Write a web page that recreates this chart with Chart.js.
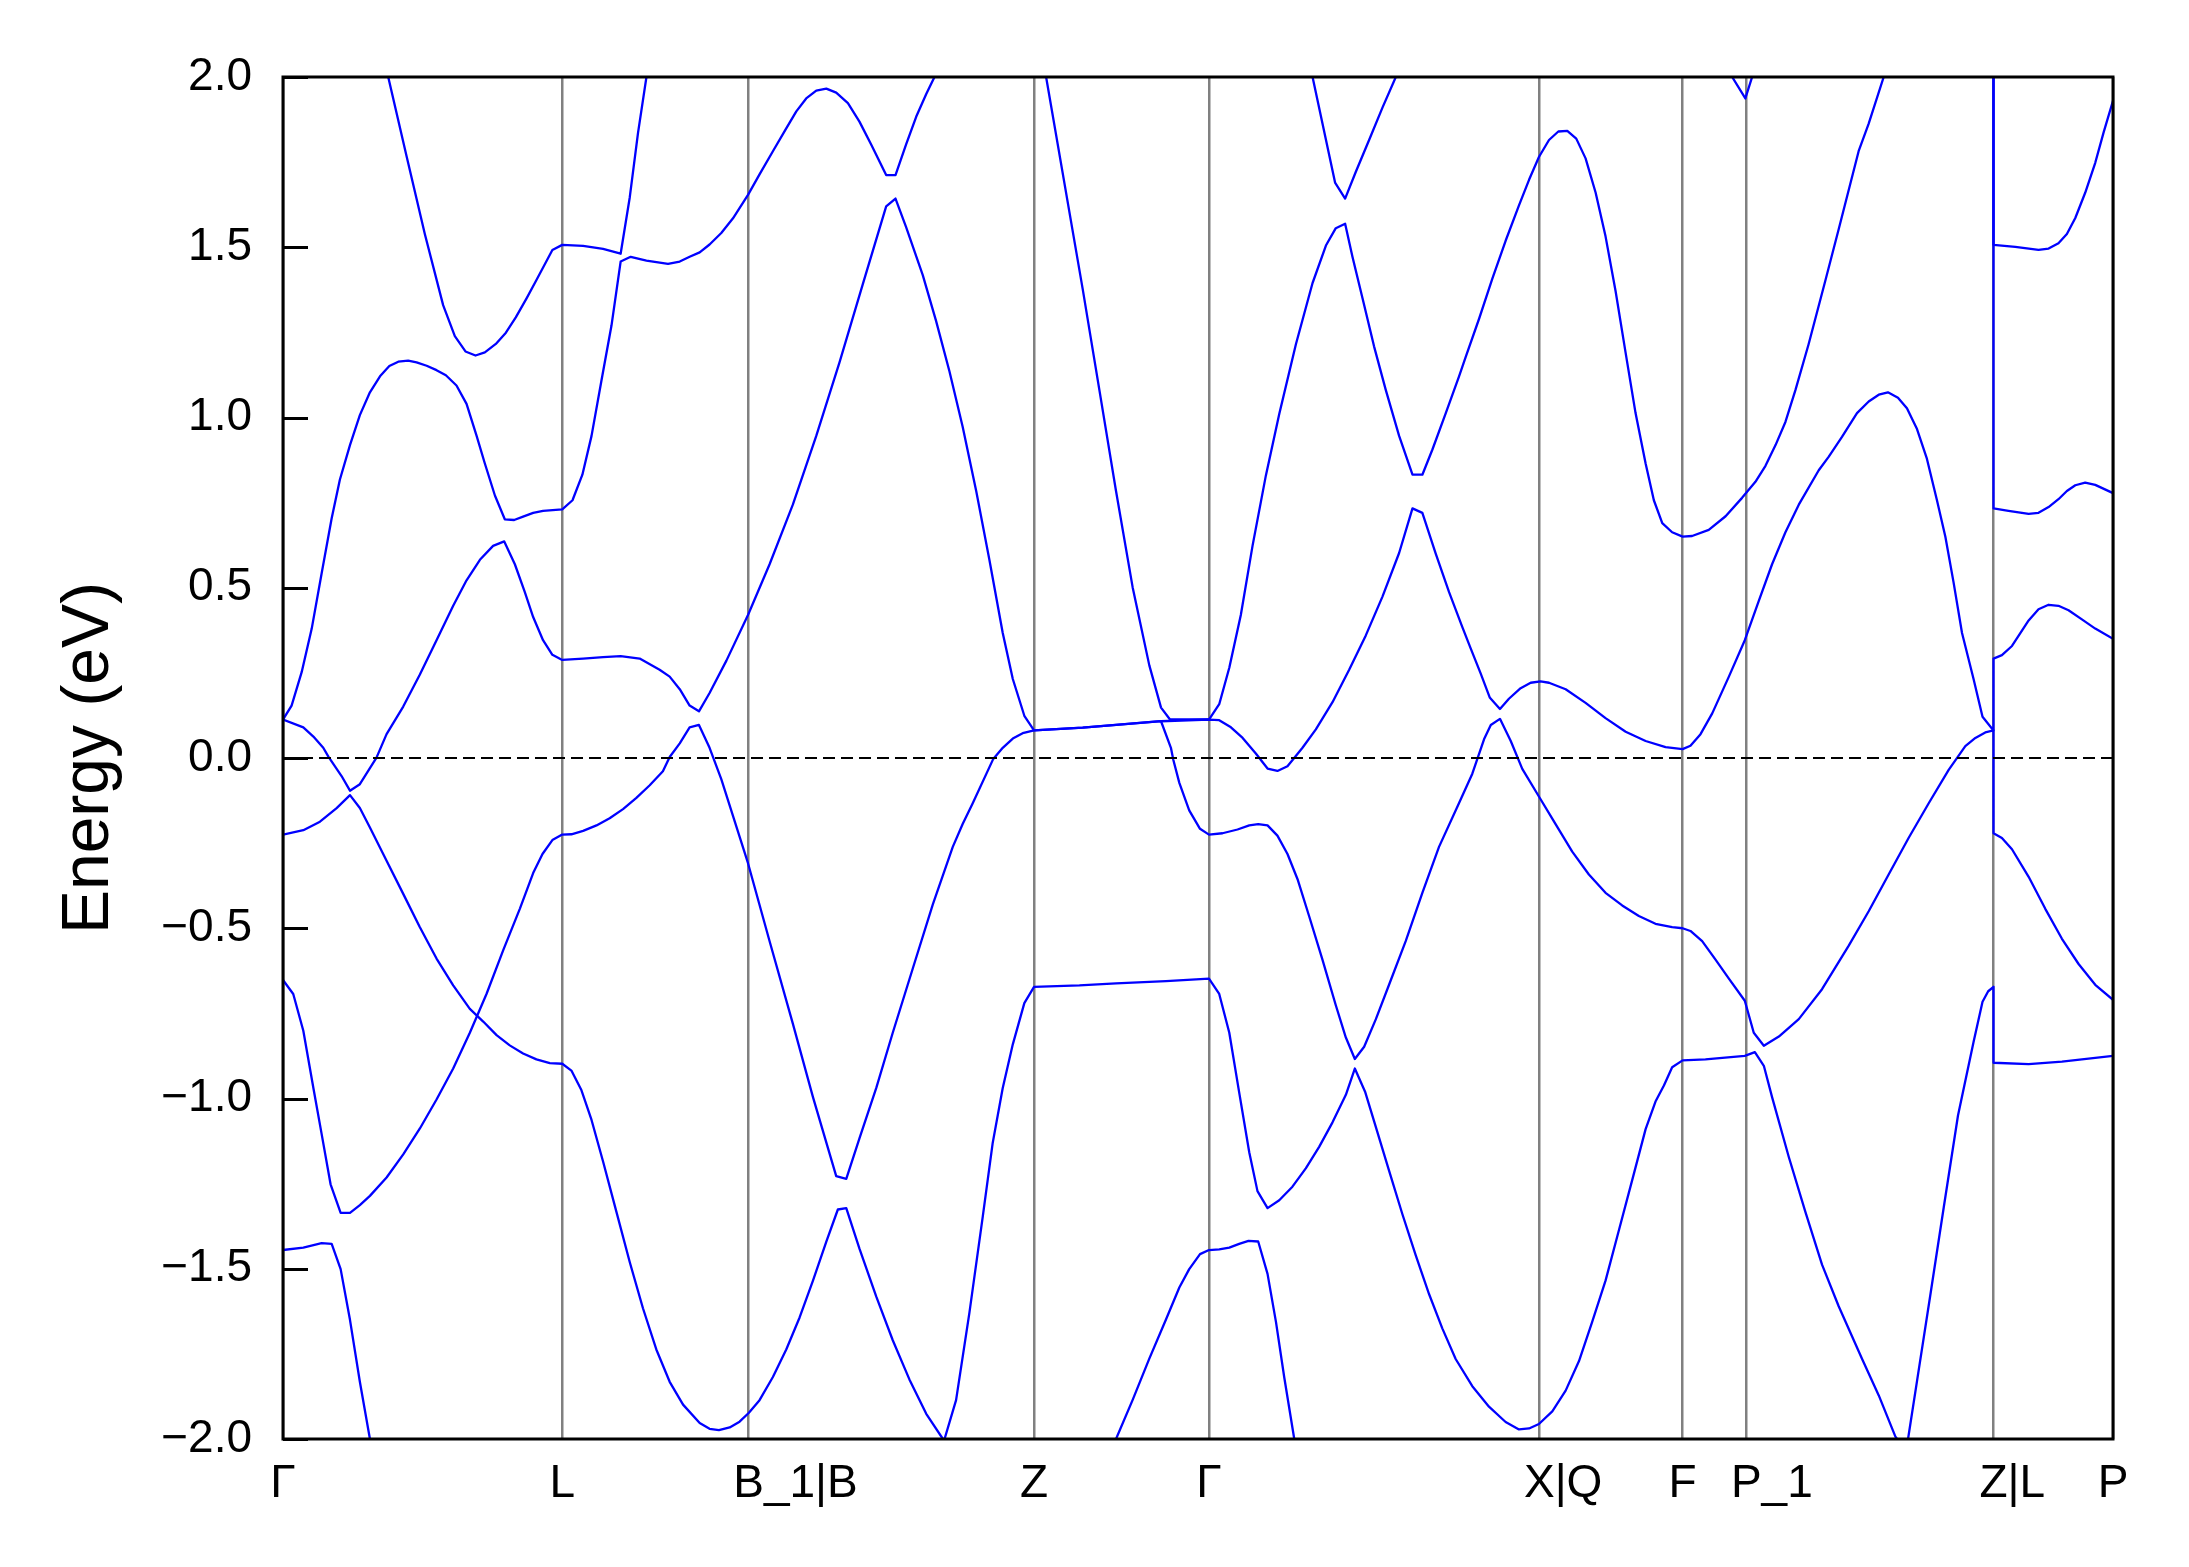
<!DOCTYPE html>
<html>
<head>
<meta charset="utf-8">
<title>Band structure</title>
<script src="https://cdn.jsdelivr.net/npm/chart.js@4.4.0/dist/chart.umd.min.js"></script>
<style>
    html, body { margin: 0; padding: 0; background: #ffffff; }
    #wrap { width: 2189px; height: 1567px; }
</style>
</head>
<body>
<div id="wrap"><canvas id="bandChart" width="2189" height="1567"></canvas></div>
<script>
// High-symmetry points along the k-path (fraction of path length)
const kLabels = ['Γ', 'L', 'B_1|B', 'Z', 'Γ', 'X|Q', 'F', 'P_1', 'Z|L', 'P'];
const kPos = [0, 0.1526, 0.2544, 0.4104, 0.5060, 0.6865, 0.7648, 0.7996, 0.9347, 1.0];

const fermiLevel = 0;
const energyMin = -2.0;
const energyMax = 2.0;

// Bands: [k, E (eV)], one array per visible line
const bandTopA = [[0.0575,2.0],[0.0675,1.768],[0.0775,1.539],[0.0875,1.330],[0.0939,1.239],[0.0997,1.194],[0.1052,1.182],[0.1103,1.191],[0.1163,1.216],[0.1218,1.249],[0.1272,1.294],[0.1331,1.350],[0.1385,1.404],[0.1472,1.492],[0.1526,1.507],[0.1640,1.504],[0.1749,1.495],[0.1845,1.481],[0.1895,1.647],[0.1940,1.836],[0.1986,2.0]];

const bandTopB = [[0,0.113],[0.0047,0.154],[0.0102,0.252],[0.0157,0.380],[0.0211,0.542],[0.0266,0.704],[0.0311,0.818],[0.0366,0.919],[0.0420,1.007],[0.0475,1.074],[0.0530,1.121],[0.0581,1.151],[0.0630,1.164],[0.0684,1.167],[0.0730,1.162],[0.0785,1.152],[0.0839,1.139],[0.0890,1.124],[0.0948,1.094],[0.1003,1.040],[0.1058,0.946],[0.1103,0.865],[0.1158,0.771],[0.1212,0.701],[0.1263,0.699],[0.1312,0.709],[0.1367,0.720],[0.1421,0.726],[0.1526,0.730],[0.1582,0.757],[0.1636,0.832],[0.1686,0.946],[0.1740,1.108],[0.1795,1.270],[0.1845,1.458],[0.1900,1.472],[0.1986,1.461],[0.2104,1.451],[0.2168,1.458],[0.2222,1.472],[0.2277,1.485],[0.2331,1.508],[0.2395,1.542],[0.2459,1.585],[0.2541,1.654],[0.2604,1.714],[0.2677,1.782],[0.2750,1.849],[0.2805,1.899],[0.2859,1.937],[0.2914,1.960],[0.2969,1.966],[0.3023,1.954],[0.3087,1.923],[0.3150,1.869],[0.3214,1.802],[0.3296,1.712],[0.3347,1.712],[0.3405,1.802],[0.3460,1.883],[0.3515,1.950],[0.3560,2.0]];

const bandSteep = [[0.417,2.0],[0.4370,1.377],[0.4461,1.081],[0.4552,0.784],[0.4643,0.501],[0.4734,0.272],[0.4798,0.148],[0.4847,0.113],[0.5060,0.113],[0.5116,0.158],[0.5171,0.265],[0.5234,0.420],[0.5298,0.623],[0.5371,0.830],[0.5444,1.010],[0.5535,1.215],[0.5626,1.395],[0.5699,1.505],[0.5753,1.556],[0.5804,1.569],[0.5844,1.472],[0.5899,1.350],[0.5962,1.209],[0.6026,1.081],[0.6099,0.946],[0.6172,0.832],[0.6226,0.832],[0.6281,0.906],[0.6354,1.013],[0.6426,1.120],[0.6463,1.178],[0.6536,1.290],[0.6608,1.407],[0.6681,1.519],[0.6754,1.623],[0.6809,1.698],[0.6863,1.765],[0.6918,1.815],[0.6969,1.840],[0.7018,1.842],[0.7067,1.819],[0.7118,1.761],[0.7173,1.660],[0.7227,1.532],[0.7282,1.371],[0.7337,1.189],[0.7391,1.013],[0.7446,0.865],[0.7491,0.757],[0.7537,0.690],[0.7591,0.663],[0.7648,0.650],[0.7700,0.652],[0.7791,0.670],[0.7883,0.710],[0.7973,0.764],[0.8046,0.811],[0.8101,0.858],[0.8156,0.919],[0.8210,0.987],[0.8265,1.081],[0.8337,1.216],[0.8429,1.404],[0.8501,1.553],[0.8610,1.782],[0.8665,1.863],[0.8747,2.0]];

const bandTopV1 = [[0.5626,2.0],[0.5749,1.690],[0.5804,1.643],[0.5862,1.721],[0.5935,1.815],[0.6008,1.910],[0.6081,2.0]];
const bandTopV2 = [[0.7919,2.0],[0.7991,1.937],[0.8028,2.0]];
const bandEndHigh = [[0.9347,2.0],[0.9347,1.507],[0.9466,1.501],[0.9593,1.492],[0.9648,1.496],[0.9702,1.512],[0.9748,1.539],[0.9794,1.586],[0.9848,1.660],[0.9903,1.748],[0.9948,1.836],[1,1.930]];
const bandEndMid = [[0.9347,2.0],[0.9347,0.733],[0.9429,0.726],[0.9539,0.717],[0.9593,0.720],[0.9648,0.737],[0.9702,0.760],[0.9748,0.784],[0.9794,0.801],[0.9848,0.809],[0.9903,0.802],[1,0.778]];

const bandCond = [[0,0.113],[0.0111,0.090],[0.0166,0.063],[0.0220,0.030],[0.0248,0.004],[0.0320,-0.053],[0.0366,-0.096],[0.0420,-0.077],[0.0511,0.001],[0.0566,0.070],[0.0657,0.151],[0.0748,0.245],[0.0839,0.346],[0.0930,0.447],[0.1003,0.522],[0.1076,0.582],[0.1148,0.623],[0.1209,0.636],[0.1267,0.569],[0.1321,0.488],[0.1367,0.414],[0.1421,0.346],[0.1472,0.303],[0.1526,0.288],[0.1640,0.292],[0.1749,0.296],[0.1845,0.299],[0.1949,0.292],[0.2058,0.259],[0.2113,0.239],[0.2168,0.202],[0.2222,0.154],[0.2273,0.137],[0.2331,0.191],[0.2423,0.286],[0.2541,0.420],[0.2659,0.569],[0.2786,0.744],[0.2914,0.946],[0.3041,1.162],[0.3168,1.391],[0.3296,1.620],[0.3347,1.643],[0.3405,1.559],[0.3496,1.418],[0.3569,1.283],[0.3642,1.135],[0.3714,0.973],[0.3788,0.784],[0.3860,0.582],[0.3933,0.367],[0.3988,0.232],[0.4051,0.124],[0.4104,0.081],[0.4370,0.089],[0.4552,0.097],[0.4798,0.108],[0.5060,0.113],[0.5116,0.111],[0.5180,0.090],[0.5244,0.059],[0.5316,0.013],[0.5380,-0.031],[0.5434,-0.038],[0.5489,-0.024],[0.5571,0.030],[0.5644,0.084],[0.5735,0.164],[0.5826,0.259],[0.5917,0.360],[0.6008,0.474],[0.6099,0.602],[0.6172,0.733],[0.6226,0.720],[0.6299,0.600],[0.6372,0.487],[0.6444,0.385],[0.6490,0.322],[0.6545,0.248],[0.6594,0.178],[0.6650,0.144],[0.6699,0.174],[0.6763,0.205],[0.6818,0.221],[0.6872,0.225],[0.6918,0.221],[0.7009,0.202],[0.7118,0.162],[0.7227,0.117],[0.7337,0.077],[0.7446,0.050],[0.7555,0.032],[0.7648,0.026],[0.7691,0.036],[0.7746,0.070],[0.7810,0.131],[0.7901,0.239],[0.7988,0.346],[0.8064,0.461],[0.8137,0.569],[0.8210,0.663],[0.8283,0.744],[0.8392,0.845],[0.8447,0.885],[0.8519,0.943],[0.8601,1.013],[0.8665,1.047],[0.8720,1.067],[0.8770,1.074],[0.8825,1.058],[0.8874,1.027],[0.8929,0.966],[0.8983,0.879],[0.9038,0.757],[0.9084,0.650],[0.9129,0.515],[0.9175,0.367],[0.9238,0.232],[0.9287,0.121],[0.9347,0.081],[0.9347,0.292],[0.9393,0.302],[0.9448,0.329],[0.9539,0.404],[0.9593,0.437],[0.9648,0.450],[0.9702,0.447],[0.9757,0.434],[0.9830,0.407],[0.9903,0.380],[1,0.350]];

const bandVal1 = [[0,-0.225],[0.0111,-0.212],[0.0202,-0.187],[0.0293,-0.147],[0.0366,-0.109],[0.0420,-0.147],[0.0475,-0.204],[0.0566,-0.302],[0.0657,-0.399],[0.0748,-0.497],[0.0839,-0.589],[0.0930,-0.668],[0.1021,-0.737],[0.1094,-0.774],[0.1167,-0.814],[0.1239,-0.844],[0.1312,-0.868],[0.1385,-0.885],[0.1458,-0.896],[0.1526,-0.898],[0.1576,-0.918],[0.1631,-0.976],[0.1686,-1.063],[0.1749,-1.185],[0.1822,-1.333],[0.1895,-1.481],[0.1967,-1.616],[0.2040,-1.737],[0.2113,-1.832],[0.2186,-1.899],[0.2277,-1.953],[0.2331,-1.970],[0.2382,-1.974],[0.2441,-1.966],[0.2495,-1.949],[0.2546,-1.923],[0.2604,-1.886],[0.2677,-1.818],[0.2750,-1.737],[0.2823,-1.643],[0.2896,-1.535],[0.2969,-1.420],[0.3032,-1.326],[0.3078,-1.322],[0.3150,-1.441],[0.3242,-1.582],[0.3332,-1.710],[0.3423,-1.825],[0.3515,-1.926],[0.3606,-2.0]];

const bandVal2 = [[0,-0.652],[0.0056,-0.693],[0.0111,-0.801],[0.0166,-0.969],[0.0211,-1.104],[0.0260,-1.252],[0.0315,-1.336],[0.0366,-1.336],[0.0420,-1.313],[0.0475,-1.286],[0.0566,-1.232],[0.0657,-1.164],[0.0748,-1.088],[0.0839,-1.003],[0.0930,-0.912],[0.1021,-0.807],[0.1112,-0.693],[0.1203,-0.565],[0.1294,-0.443],[0.1367,-0.338],[0.1418,-0.282],[0.1472,-0.241],[0.1526,-0.225],[0.1576,-0.224],[0.1640,-0.214],[0.1713,-0.198],[0.1785,-0.177],[0.1858,-0.150],[0.1931,-0.117],[0.2004,-0.080],[0.2076,-0.039],[0.2113,0.003],[0.2168,0.043],[0.2222,0.090],[0.2273,0.097],[0.2331,0.030],[0.2395,-0.062],[0.2541,-0.309],[0.2659,-0.538],[0.2786,-0.780],[0.2896,-0.996],[0.3023,-1.228],[0.3078,-1.236],[0.3150,-1.117],[0.3242,-0.969],[0.3332,-0.807],[0.3441,-0.619],[0.3551,-0.430],[0.3660,-0.261],[0.3714,-0.194],[0.3769,-0.133],[0.3880,-0.004],[0.3933,0.030],[0.3988,0.057],[0.4042,0.073],[0.4104,0.081],[0.4370,0.089],[0.4552,0.097],[0.4798,0.108],[0.4852,0.030],[0.4865,-0.005],[0.4898,-0.073],[0.4952,-0.154],[0.5011,-0.208],[0.5060,-0.225],[0.5134,-0.221],[0.5216,-0.210],[0.5280,-0.198],[0.5329,-0.194],[0.5380,-0.198],[0.5434,-0.228],[0.5489,-0.282],[0.5544,-0.356],[0.5607,-0.464],[0.5680,-0.592],[0.5753,-0.726],[0.5808,-0.821],[0.5857,-0.884],[0.5908,-0.848],[0.5972,-0.767],[0.6044,-0.666],[0.6135,-0.538],[0.6226,-0.396],[0.6317,-0.261],[0.6426,-0.133],[0.6499,-0.046],[0.6563,0.055],[0.6600,0.097],[0.6650,0.115],[0.6709,0.050],[0.6772,-0.032],[0.6863,-0.113],[0.6954,-0.194],[0.7045,-0.275],[0.7136,-0.342],[0.7227,-0.396],[0.7318,-0.433],[0.7409,-0.464],[0.7500,-0.487],[0.7591,-0.497],[0.7648,-0.500],[0.7691,-0.508],[0.7755,-0.538],[0.7828,-0.592],[0.7901,-0.648],[0.7988,-0.713],[0.8037,-0.807],[0.8092,-0.845],[0.8174,-0.818],[0.8283,-0.767],[0.8410,-0.679],[0.8556,-0.551],[0.8665,-0.450],[0.8774,-0.342],[0.8883,-0.235],[0.8993,-0.133],[0.9102,-0.035],[0.9193,0.035],[0.9248,0.059],[0.9302,0.075],[0.9347,0.081],[0.9347,-0.221],[0.9393,-0.235],[0.9448,-0.268],[0.9539,-0.349],[0.9630,-0.443],[0.9721,-0.531],[0.9812,-0.605],[0.9903,-0.666],[1,-0.710]];

const bandVal3 = [[0,-1.445],[0.0111,-1.438],[0.0211,-1.425],[0.0266,-1.427],[0.0315,-1.501],[0.0366,-1.650],[0.0420,-1.832],[0.0475,-2.0]];

const bandVal4 = [[0.3615,-2.0],[0.3678,-1.886],[0.3751,-1.629],[0.3824,-1.346],[0.3878,-1.131],[0.3933,-0.969],[0.3988,-0.841],[0.4051,-0.720],[0.4104,-0.672],[0.4352,-0.668],[0.4552,-0.662],[0.4825,-0.655],[0.5060,-0.648],[0.5116,-0.693],[0.5171,-0.807],[0.5225,-0.982],[0.5280,-1.158],[0.5325,-1.272],[0.5380,-1.322],[0.5444,-1.299],[0.5516,-1.259],[0.5589,-1.205],[0.5662,-1.142],[0.5735,-1.070],[0.5808,-0.989],[0.5857,-0.912],[0.5913,-0.980],[0.5972,-1.084],[0.6044,-1.212],[0.6117,-1.340],[0.6190,-1.461],[0.6263,-1.575],[0.6335,-1.675],[0.6408,-1.765],[0.6499,-1.845],[0.6590,-1.905],[0.6681,-1.950],[0.6754,-1.972],[0.6809,-1.969],[0.6863,-1.956],[0.6936,-1.919],[0.7009,-1.858],[0.7082,-1.771],[0.7154,-1.656],[0.7227,-1.535],[0.7300,-1.387],[0.7373,-1.239],[0.7446,-1.090],[0.7500,-1.009],[0.7546,-0.962],[0.7591,-0.908],[0.7648,-0.888],[0.7773,-0.885],[0.7988,-0.875],[0.8043,-0.864],[0.8092,-0.904],[0.8137,-0.996],[0.8228,-1.171],[0.8319,-1.333],[0.8410,-1.488],[0.8501,-1.610],[0.8629,-1.765],[0.8720,-1.872],[0.8811,-1.993],[0.8820,-2.0]];

const bandVal5 = [[0.8880,-2.0],[0.8929,-1.83],[0.9001,-1.58],[0.9075,-1.32],[0.9153,-1.05],[0.9238,-0.834],[0.9287,-0.716],[0.9318,-0.685],[0.9347,-0.672],[0.9347,-0.895],[0.9539,-0.899],[0.9721,-0.892],[1,-0.875]];

const bandVal6 = [[0.4552,-2.0],[0.4643,-1.885],[0.4734,-1.764],[0.4825,-1.649],[0.4898,-1.555],[0.4952,-1.501],[0.5011,-1.457],[0.5060,-1.445],[0.5116,-1.443],[0.5171,-1.438],[0.5225,-1.427],[0.5276,-1.418],[0.5329,-1.420],[0.5380,-1.515],[0.5426,-1.656],[0.5471,-1.818],[0.5526,-2.0]];

const bands = [bandTopA, bandTopB, bandSteep, bandTopV1, bandTopV2, bandEndHigh, bandEndMid,
    bandCond, bandVal1, bandVal2, bandVal3, bandVal4, bandVal5, bandVal6];

const FONT = "'Liberation Sans', Arial, Helvetica, sans-serif";

// Frame and inward y ticks, drawn on top like matplotlib spines
const framePlugin = {
    id: 'frame',
    afterDatasetsDraw(chart) {
        const { ctx, chartArea: a, scales: { y } } = chart;
        ctx.save();
        ctx.strokeStyle = '#000000';
        ctx.lineWidth = 3;
        y.ticks.forEach(function (t) {
            const py = Math.round(y.getPixelForValue(t.value)) + 0.5;
            ctx.beginPath();
            ctx.moveTo(a.left, py);
            ctx.lineTo(a.left + 25, py);
            ctx.stroke();
        });
        ctx.strokeRect(a.left, a.top, a.right - a.left, a.bottom - a.top);
        ctx.restore();
    }
};

// k-point labels: first character centred on its line, as in the original figure
const kLabelPlugin = {
    id: 'kLabels',
    afterDraw(chart) {
        const { ctx, chartArea: a, scales: { x } } = chart;
        ctx.save();
        ctx.font = '46px ' + FONT;
        ctx.fillStyle = '#000000';
        ctx.textAlign = 'left';
        ctx.textBaseline = 'alphabetic';
        kLabels.forEach(function (lab, i) {
            const px = x.getPixelForValue(kPos[i]);
            const half = ctx.measureText(lab.charAt(0)).width / 2;
            ctx.fillText(lab, px - half, a.bottom + 58);
        });
        ctx.restore();
    }
};

function initBandChart() {
    const ctx = document.getElementById('bandChart');
    if (!ctx) return;

    const datasets = bands.map(function (band) {
        return {
            data: band.map(function (p) { return { x: p[0], y: p[1] }; }),
            showLine: true,
            borderColor: '#0000ff',
            borderWidth: 2.3,
            borderJoinStyle: 'round',
            pointRadius: 0,
            tension: 0,
            order: 1
        };
    });

    datasets.push({
        data: [{ x: 0, y: fermiLevel }, { x: 1, y: fermiLevel }],
        showLine: true,
        borderColor: '#000000',
        borderWidth: 2,
        borderDash: [12, 6],
        pointRadius: 0,
        order: 0
    });

    new Chart(ctx, {
        type: 'scatter',
        data: { datasets: datasets },
        options: {
            responsive: false,
            animation: false,
            layout: { padding: { left: 0, right: 76, top: 77, bottom: 0 } },
            plugins: {
                legend: { display: false },
                tooltip: { enabled: false }
            },
            scales: {
                x: {
                    type: 'linear',
                    min: 0,
                    max: 1,
                    afterBuildTicks: function (axis) {
                        axis.ticks = kPos.map(function (v) { return { value: v }; });
                    },
                    afterFit: function (axis) { axis.height = 128; },
                    grid: { color: '#808080', lineWidth: 2.5, drawTicks: false },
                    border: { display: false },
                    ticks: { display: false }
                },
                y: {
                    min: energyMin,
                    max: energyMax,
                    afterFit: function (axis) { axis.width = 283; },
                    grid: { display: false, drawTicks: false },
                    border: { display: false },
                    ticks: {
                        stepSize: 0.5,
                        padding: 31,
                        color: '#000000',
                        font: { family: FONT, size: 46 },
                        callback: function (value) {
                            const s = Math.abs(value).toFixed(1);
                            return value < 0 ? '\u2212' + s : s;
                        }
                    },
                    title: {
                        display: true,
                        text: 'Energy (eV)',
                        color: '#000000',
                        font: { family: FONT, size: 66 },
                        padding: { top: 50, bottom: 0 }
                    }
                }
            }
        },
        plugins: [framePlugin, kLabelPlugin]
    });
}

initBandChart();
</script>
</body>
</html>
